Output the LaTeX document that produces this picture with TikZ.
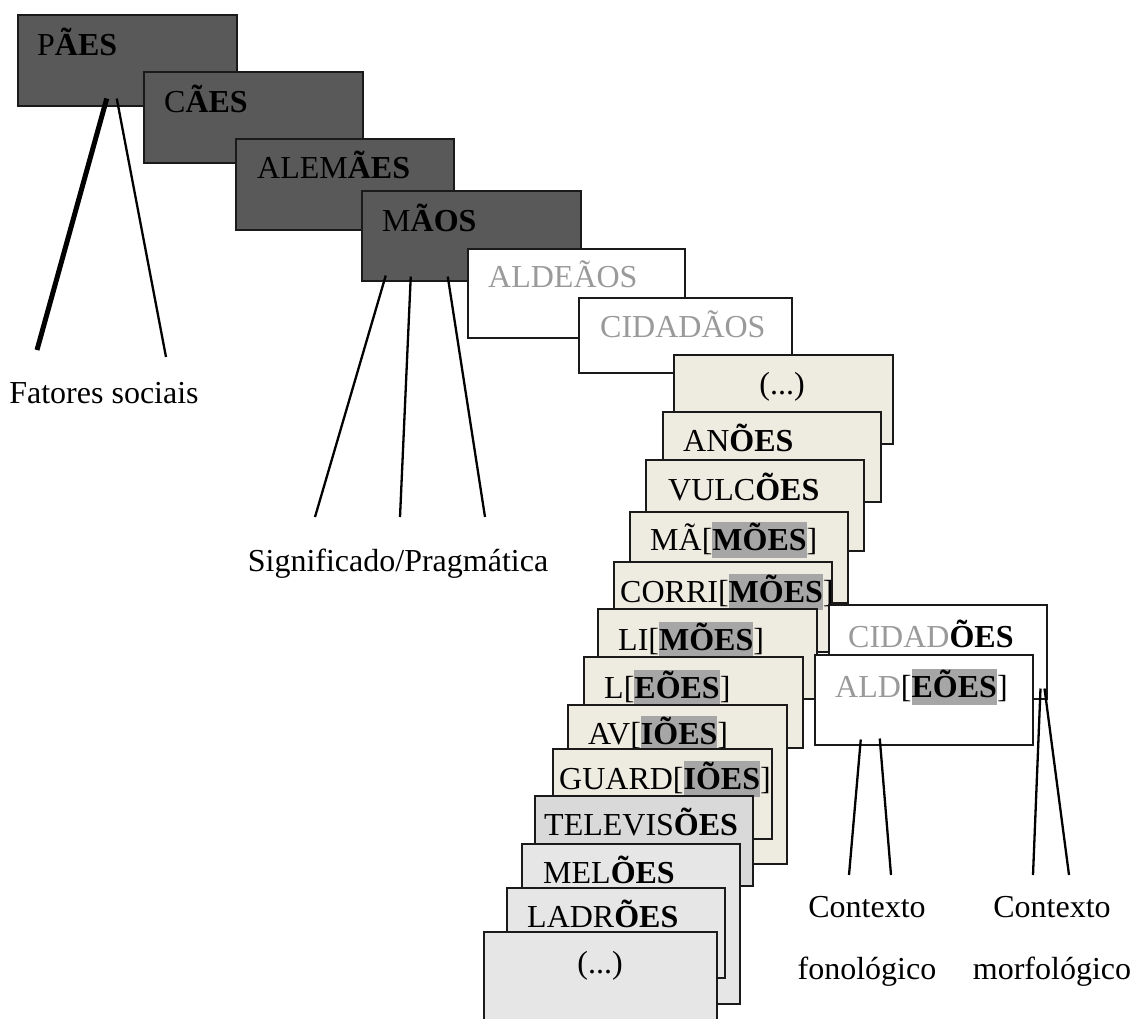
\documentclass[tikz,border=0pt]{standalone}
\usepackage{fontspec}
\setmainfont{Liberation Serif}
\usetikzlibrary{calc}
\definecolor{dgray}{HTML}{595959}
\definecolor{beige}{HTML}{EEECE1}
\definecolor{lgA}{HTML}{D9D9D9}
\definecolor{lgB}{HTML}{E6E6E6}
\definecolor{hlgray}{HTML}{A6A6A6}
\definecolor{txgray}{HTML}{9A9A9A}
\definecolor{edgec}{HTML}{1A1A1A}
\newcommand\hlt[1]{{\fboxsep=0pt\colorbox{hlgray}{\rule[-8pt]{0pt}{36pt}\textbf{#1}}}}
\newcommand\gtx[1]{\textcolor{txgray}{#1}}
\begin{document}
\begin{tikzpicture}[x=1pt,y=-1pt,
 box/.style={draw=edgec, line width=1.5pt, anchor=north west, inner sep=0pt},
 sz/.style 2 args={minimum width=#1pt, minimum height=#2pt},
 lab/.style={inner sep=0pt, font=\fontsize{32}{38}\selectfont},
 lw/.style={lab, anchor=base west},
 lc/.style={lab, anchor=base},
 conn/.style={draw=black, line width=2.3pt},
 heavyconn/.style={draw=black, line width=5pt}]
\useasboundingbox (0,0) rectangle (1134,1018);
% dark boxes
\node[box, fill=dgray, sz={219}{91}] (bPAES) at (17,14) {};
\node[lw] (tPAES) at (37,55) {P\textbf{ÃES}};
\node[box, fill=dgray, sz={219}{91}] (bCAES) at (143,71) {};
\node[lw] (tCAES) at (164,112) {C\textbf{ÃES}};
\node[box, fill=dgray, sz={218}{91}] (bALEM) at (235,138) {};
\node[lw] (tALEM) at (257,178) {ALEM\textbf{ÃES}};
\node[box, fill=dgray, sz={219}{90}] (bMAOS) at (361,190) {};
\node[lw] (tMAOS) at (382,231) {M\textbf{ÃOS}};
% white boxes
\node[box, fill=white, sz={217}{89}] (bALDEAOS) at (467,248) {};
\node[lw] (tALDEAOS) at (488,287) {\gtx{ALDEÃOS}};
\node[box, fill=white, sz={213}{75}] (bCIDADAOS) at (578,297) {};
\node[lw] (tCIDADAOS) at (600,337) {\gtx{CIDADÃOS}};
% beige boxes
\node[box, fill=beige, sz={219}{89}] (bEtcA) at (673,354) {};
\node[lc] (tEtcA) at (782,394) {(...)};
\node[box, fill=beige, sz={218}{90}] (bANOES) at (662,411) {};
\node[lw] (tANOES) at (683,451) {AN\textbf{ÕES}};
\node[box, fill=beige, sz={218}{91}] (bVULC) at (645,459) {};
\node[lw] (tVULC) at (668,500) {VULC\textbf{ÕES}};
\node[box, fill=beige, sz={218}{91}] (bMAM) at (629,511) {};
\node[lw] (tMAM) at (650,550) {MÃ[\hlt{MÕES}]};
\node[box, fill=beige, sz={218}{90}] (bCORRI) at (613,561) {};
\node[lw] (tCORRI) at (620,602) {CORRI[\hlt{MÕES}]};
\node[box, fill=beige, sz={219}{90}] (bLI) at (597,608) {};
\node[lw] (tLI) at (618,650) {LI[\hlt{MÕES}]};
\node[box, fill=beige, sz={219}{91}] (bLEOES) at (583,656) {};
\node[lw] (tLEOES) at (604,698) {L[\hlt{EÕES}]};
\node[box, fill=beige, sz={219}{159}] (bAV) at (567,704) {};
\node[lw] (tAV) at (588,744) {AV[\hlt{IÕES}]};
\node[box, fill=beige, sz={219}{90}] (bGUARD) at (552,748) {};
\node[lw] (tGUARD) at (559,789) {GUARD[\hlt{IÕES}]};
% grey boxes
\node[box, fill=lgA, sz={218}{90}] (bTELE) at (534,795) {};
\node[lw] (tTELE) at (544,835) {TELEVIS\textbf{ÕES}};
\node[box, fill=lgB, sz={218}{160}] (bMEL) at (521,843) {};
\node[lw] (tMEL) at (543,883) {MEL\textbf{ÕES}};
\node[box, fill=lgB, sz={218}{90}] (bLADR) at (506,887) {};
\node[lw] (tLADR) at (527,927) {LADR\textbf{ÕES}};
\node[box, fill=lgB, sz={233}{100}] (bEtcB) at (483,931) {};
\node[lc] (tEtcB) at (600,973) {(...)};
% right boxes
\node[box, fill=white, sz={218}{94}] (bCIDADOES) at (828,604) {};
\node[lw] (tCIDADOES) at (848,647) {\gtx{CIDAD}\textbf{ÕES}};
\node[box, fill=white, sz={218}{90}] (bALD) at (814,654) {};
\node[lw] (tALD) at (835,697) {\gtx{ALD}[\hlt{EÕES}]};
% labels
\node[lc] (lFat) at (104,403) {Fatores sociais};
\node[lc] (lSig) at (398,571) {Significado/Pragmática};
\node[lc] (lCon1) at (867,917) {Contexto};
\node[lc] (lFon) at (867,979) {fonológico};
\node[lc] (lCon2) at (1052,917) {Contexto};
\node[lc] (lMor) at (1052,979) {morfológico};
% connector ends
\coordinate (eF1) at (37,350);
\coordinate (eF2) at (166,357);
\coordinate (eS1) at (315,517);
\coordinate (eS2) at (400,517);
\coordinate (eS3) at (485,517);
\coordinate (eP1) at (849,875);
\coordinate (eP2) at (891,875);
\coordinate (eM1) at (1033,875);
\coordinate (eM2) at (1069,875);
% connectors
\draw[heavyconn] ($(bPAES.south)+(-20.5,-8)$) -- (eF1);
\draw[conn] ($(bPAES.south)+(-10.5,-8)$) -- (eF2);
\draw[conn] ($(bMAOS.south)+(-85.5,-6)$) -- (eS1);
\draw[conn] ($(bMAOS.south)+(-60.5,-5)$) -- (eS2);
\draw[conn] ($(bMAOS.south)+(-23.5,-5)$) -- (eS3);
\draw[conn] ($(bALD.south)+(-63,-6)$) -- (eP1);
\draw[conn] ($(bALD.south)+(-44,-7)$) -- (eP2);
\draw[conn] ($(bCIDADOES.south east)+(-7,-11)$) -- (eM1);
\draw[conn] ($(bCIDADOES.south east)+(-3,-11)$) -- (eM2);
\end{tikzpicture}
\end{document}
